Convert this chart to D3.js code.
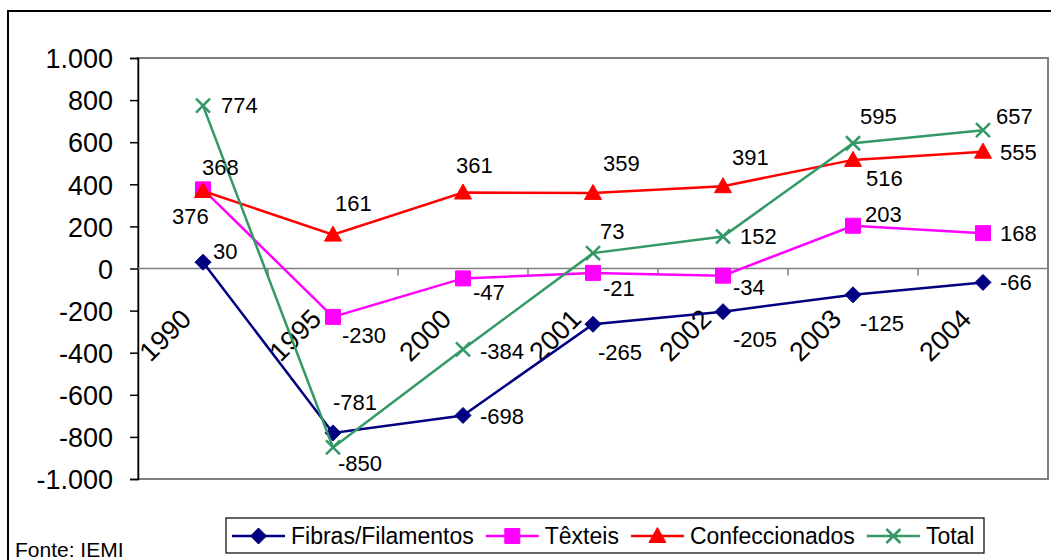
<!DOCTYPE html>
<html>
<head>
<meta charset="utf-8">
<script src="https://cdn.jsdelivr.net/npm/d3@7"></script>
<style>
  html, body { margin: 0; padding: 0; background: #fff; }
  svg { display: block; font-family: "Liberation Sans", Arial, sans-serif; }
</style>
</head>
<body>
<svg id="chart" width="1051" height="560"></svg>
<script>
// Saldo comercial por segmento (mil toneladas)
const years = ["1990", "1995", "2000", "2001", "2002", "2003", "2004"];
const fibras = [30, -781, -698, -265, -205, -125, -66];
const texteis = [376, -230, -47, -21, -34, 203, 168];
const confeccionados = [368, 161, 361, 359, 391, 516, 555];
const total = [774, -850, -384, 73, 152, 595, 657];
const yTicks = [-1000, -800, -600, -400, -200, 0, 200, 400, 600, 800, 1000];
const seriesNames = ["Fibras/Filamentos", "Têxteis", "Confeccionados", "Total"];

// Label placement around each point: [dx, dy] from the marker centre
const labelOffsets = [
  [[10, -11], [0, -31], [17, 1], [5, 28], [10, 27], [7, 28], [17, 0]],
  [[-31, 27], [9, 18], [10, 14], [10, 15], [10, 11], [12, -12], [17, 0]],
  [[-1, -24], [2, -32], [-7, -27], [10, -30], [9, -29], [13, 18], [17, 0]],
  [[18, 0], [5, 16], [17, 2], [7, -22], [17, 0], [7, -27], [13, -14]]
];

const series = [
  { name: seriesNames[0], values: fibras, color: "#000080", marker: "diamond" },
  { name: seriesNames[1], values: texteis, color: "#FF00FF", marker: "square" },
  { name: seriesNames[2], values: confeccionados, color: "#FF0000", marker: "triangle" },
  { name: seriesNames[3], values: total, color: "#339966", marker: "cross" }
];

const locale = d3.formatLocale({ decimal: ",", thousands: ".", grouping: [3], currency: ["R$", ""], minus: "-" });
const fmt = locale.format(",d");

const svg = d3.select("#chart");

// Outer chart frame
svg.append("rect")
  .attr("x", 8).attr("y", 11).attr("width", 1060).attr("height", 600)
  .attr("fill", "none").attr("stroke", "#000").attr("stroke-width", 2);

const plot = { left: 138, right: 1048, top: 58, bottom: 479 };

const x = d3.scaleBand().domain(years).range([plot.left, plot.right]).padding(0);
const y = d3.scaleLinear().domain([-1000, 1000]).range([plot.bottom, plot.top]);
const cx = d => x(d) + x.bandwidth() / 2;

// Plot area border
svg.append("rect")
  .attr("x", plot.left).attr("y", plot.top)
  .attr("width", plot.right - plot.left).attr("height", plot.bottom - plot.top)
  .attr("fill", "none").attr("stroke", "#808080").attr("stroke-width", 2);

// Value axis
const yAxis = d3.axisLeft(y).tickValues(yTicks).tickFormat(fmt).tickSize(8).tickPadding(17);
const gy = svg.append("g").attr("transform", `translate(${plot.left},0)`).call(yAxis);
gy.select(".domain").attr("stroke", "#000").attr("stroke-width", 1.5);
gy.selectAll(".tick line").attr("stroke", "#000").attr("stroke-width", 1.5);
gy.selectAll(".tick text")
  .attr("font-family", "Liberation Sans, Arial, sans-serif")
  .attr("font-size", 27).attr("fill", "#000").attr("dy", "0.36em");

// Category axis along zero
const zeroY = y(0);
svg.append("line")
  .attr("x1", plot.left).attr("x2", plot.right)
  .attr("y1", zeroY).attr("y2", zeroY)
  .attr("stroke", "#808080").attr("stroke-width", 1.5);
const boundaries = years.map(d => x(d)).concat([plot.right]);
svg.append("g").selectAll("line").data(boundaries.slice(1)).join("line")
  .attr("x1", d => d).attr("x2", d => d)
  .attr("y1", zeroY).attr("y2", zeroY + 7)
  .attr("stroke", "#808080").attr("stroke-width", 1.5);

svg.append("g").selectAll("text").data(years).join("text")
  .attr("transform", d => `translate(${cx(d) - 10},${zeroY + 52}) rotate(-45)`)
  .attr("text-anchor", "end")
  .attr("font-size", 27).attr("fill", "#000")
  .text(d => d);

// Marker shapes
function markerPath(type) {
  switch (type) {
    case "diamond": return "M0,-8L8,0L0,8L-8,0Z";
    case "square": return "M-7.5,-7.5H7.5V7.5H-7.5Z";
    case "triangle": return "M0,-8.5L8.5,6.5H-8.5Z";
    case "cross": return "M-7,-7L7,7M-7,7L7,-7";
  }
}
function drawMarker(g, s) {
  const p = g.append("path").attr("d", markerPath(s.marker));
  if (s.marker === "cross") {
    p.attr("fill", "none").attr("stroke", s.color).attr("stroke-width", 2.5);
  } else {
    p.attr("fill", s.color).attr("stroke", s.color).attr("stroke-width", 1);
  }
}

const line = d3.line().x((d, i) => cx(years[i])).y(d => y(d));

series.forEach((s, si) => {
  const g = svg.append("g");
  g.append("path").datum(s.values)
    .attr("d", line)
    .attr("fill", "none").attr("stroke", s.color).attr("stroke-width", 2.5);
  s.values.forEach((v, i) => {
    const m = g.append("g").attr("transform", `translate(${cx(years[i])},${y(v)})`);
    drawMarker(m, s);
  });
});

// Data labels drawn above all series
series.forEach((s, si) => {
  svg.append("g").selectAll("text").data(s.values).join("text")
    .attr("x", (d, i) => cx(years[i]) + labelOffsets[si][i][0])
    .attr("y", (d, i) => y(d) + labelOffsets[si][i][1])
    .attr("dy", "0.36em")
    .attr("font-size", 22).attr("fill", "#000")
    .text(d => fmt(d));
});

// Legend
const legend = svg.append("g");
legend.append("rect")
  .attr("x", 226).attr("y", 518).attr("width", 758).attr("height", 35)
  .attr("fill", "#fff").attr("stroke", "#000").attr("stroke-width", 1.2);
let lx = 232;
const ly = 536;
series.forEach(s => {
  const item = legend.append("g");
  item.append("line")
    .attr("x1", lx).attr("x2", lx + 53).attr("y1", ly).attr("y2", ly)
    .attr("stroke", s.color).attr("stroke-width", 2.5);
  const m = item.append("g").attr("transform", `translate(${lx + 26.5},${ly})`);
  drawMarker(m, s);
  const t = item.append("text")
    .attr("x", lx + 59).attr("y", ly).attr("dy", "0.36em")
    .attr("font-size", 23).attr("fill", "#000")
    .text(s.name);
  lx += 59 + t.node().getComputedTextLength() + 12;
});

// Source note
svg.append("text")
  .attr("x", 15).attr("y", 557)
  .attr("font-size", 21).attr("fill", "#000")
  .text("Fonte: IEMI");
</script>
</body>
</html>
